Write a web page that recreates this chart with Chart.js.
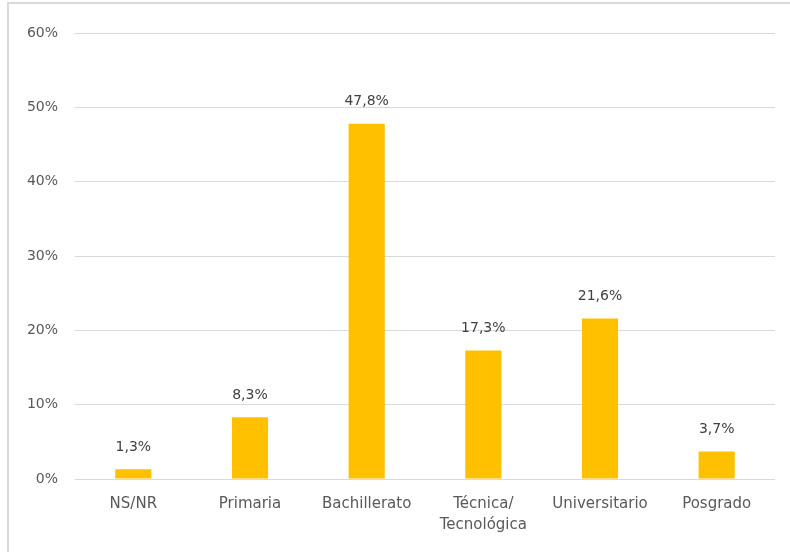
<!DOCTYPE html>
<html>
<head>
<meta charset="utf-8">
<script src="https://cdn.jsdelivr.net/npm/chart.js@4/dist/chart.umd.min.js"></script>
<style>
  html, body { margin: 0; padding: 0; background: #fff; overflow: hidden; }
  #wrap { position: relative; width: 790px; height: 552px; overflow: hidden; }
  #frame { position: absolute; left: 7px; top: 2px; width: 800px; height: 600px; border-left: 2px solid #d9d9d9; border-top: 2px solid #d9d9d9; box-sizing: border-box; pointer-events: none; }
  canvas { display: block; }
</style>
</head>
<body>
<div id="wrap">
  <canvas id="c" width="790" height="552"></canvas>
  <div id="frame"></div>
</div>
<script>
const categories = ["NS/NR", "Primaria", "Bachillerato", ["Técnica/", "Tecnológica"], "Universitario", "Posgrado"];
const values = [1.3, 8.3, 47.8, 17.3, 21.6, 3.7];
const yTicks = [0, 10, 20, 30, 40, 50, 60];

const FONT = "'DejaVu Sans', 'Open Sans', sans-serif";
const TEXT = "#595959";

const labelPlugin = {
  id: 'barLabels',
  afterDatasetsDraw(chart) {
    const ctx = chart.ctx;
    const meta = chart.getDatasetMeta(0);
    ctx.save();
    ctx.font = "14px " + FONT;
    ctx.fillStyle = "#404040";
    ctx.textAlign = "center";
    ctx.textBaseline = "middle";
    meta.data.forEach((el, i) => {
      ctx.fillText(values[i].toFixed(1).replace('.', ',') + '%', el.x, el.y - 22);
    });
    ctx.restore();
  }
};

new Chart(document.getElementById('c'), {
  type: 'bar',
  data: {
    labels: categories,
    datasets: [{
      data: values,
      backgroundColor: '#FFC000',
      categoryPercentage: 1,
      barPercentage: 0.31
    }]
  },
  options: {
    responsive: false,
    animation: false,
    layout: { padding: { top: 33, right: 15, bottom: 0, left: 0 } },
    plugins: { legend: { display: false }, tooltip: { enabled: false } },
    scales: {
      x: {
        grid: { display: false },
        border: { display: false },
        ticks: { color: TEXT, font: { family: FONT, size: 15, lineHeight: 1.4 }, padding: 7, maxRotation: 0, autoSkip: false },
        afterFit(s) { s.height = 73; }
      },
      y: {
        min: 0, max: 60,
        afterBuildTicks(s) { s.ticks = yTicks.map(v => ({ value: v })); },
        grid: { color: '#d9d9d9', lineWidth: 1, drawTicks: false },
        border: { display: false },
        ticks: { color: TEXT, font: { family: FONT, size: 14 }, padding: 17, callback: v => v + '%' },
        afterFit(s) { s.width = 75; }
      }
    }
  },
  plugins: [labelPlugin]
});
</script>
</body>
</html>
